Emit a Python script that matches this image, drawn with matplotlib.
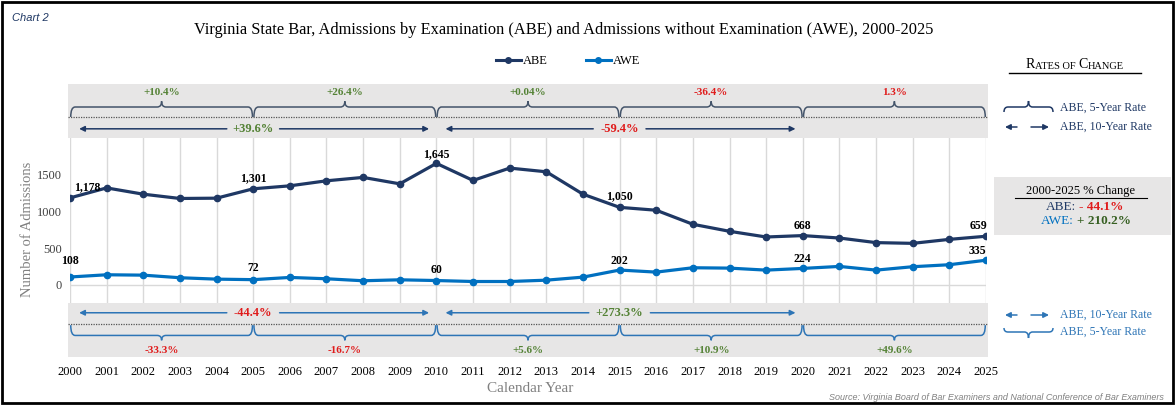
import matplotlib.pyplot as plt
from matplotlib.patches import Rectangle, PathPatch
from matplotlib.path import Path
from matplotlib.lines import Line2D

plt.rcParams['font.family'] = 'serif'
plt.rcParams['font.serif'] = ['Liberation Serif', 'DejaVu Serif']

# data
years = list(range(2000, 2026))
abe = [1178, 1313, 1228, 1170, 1174, 1301, 1341, 1409, 1455, 1368,
       1645, 1414, 1581, 1531, 1228, 1050, 1011, 821, 726, 649,
       668, 635, 573, 563, 617, 659]
awe = [108, 138, 133, 98, 79, 72, 102, 84, 57, 70,
       60, 47, 47, 65, 106, 202, 174, 233, 228, 201,
       224, 251, 201, 247, 274, 335]
label_years = [2000, 2005, 2010, 2015, 2020, 2025]

# rates of change as printed in the chart
abe_5yr = ['+10.4%', '+26.4%', '+0.04%', '-36.4%', '1.3%']
abe_10yr = ['+39.6%', '-59.4%']
awe_5yr = ['-33.3%', '-16.7%', '+5.6%', '+10.9%', '+49.6%']
awe_10yr = ['-44.4%', '+273.3%']

NAVY = '#1f3864'
BLUE = '#0070c0'
LBLUE = '#2e75b6'
SLATE = '#44546a'
GREEN = '#548235'
RED = '#e01b1b'
BAND = '#e7e6e6'

W, H = 1175, 408


def box(x0, y0, x1, y1):
    return [x0 / W, 1 - y1 / H, (x1 - x0) / W, (y1 - y0) / H]


def rate_color(s):
    return GREEN if s.startswith('+') else RED


def brace(axx, a, b, yl, ye, yt, color, d):
    m = (a + b) / 2
    verts = [(a, ye), (a, yl), (a + d, yl),
             (m - d, yl), (m, yl), (m, yt),
             (m, yl), (m + d, yl),
             (b - d, yl), (b, yl), (b, ye)]
    codes = [Path.MOVETO, Path.CURVE3, Path.CURVE3,
             Path.LINETO, Path.CURVE3, Path.CURVE3,
             Path.CURVE3, Path.CURVE3,
             Path.LINETO, Path.CURVE3, Path.CURVE3]
    axx.add_patch(PathPatch(Path(verts, codes), fill=False, ec=color, lw=1.1))


def arrow(axx, x0, x1, y, color):
    axx.annotate('', xy=(x1, y), xytext=(x0, y),
                 arrowprops=dict(arrowstyle='-|>', color=color, lw=1.1,
                                 mutation_scale=8, shrinkA=0, shrinkB=0))


def ten_year(axx, a, b, y, txt, color):
    m = (a + b) / 2
    gap = 0.12 * len(txt)
    arrow(axx, m - gap, a + 0.25, y, color)
    arrow(axx, m + gap, b - 0.2, y, color)
    axx.text(m, y, txt, ha='center', va='center', fontsize=9,
             fontweight='bold', color=rate_color(txt))


fig = plt.figure(figsize=(W / 100, H / 100), dpi=100)

# main chart
ax = fig.add_axes(box(70, 138, 986, 302.5))
ax.set_xlim(2000, 2025)
ax.set_ylim(-237, 1988)
ax.set_xticks(years)
ax.set_yticks([0, 500, 1000, 1500])
ax.grid(axis='x', color='#d9d9d9', lw=1)
ax.axhline(0, color='#d9d9d9', lw=1)
for s in ax.spines.values():
    s.set_visible(False)
ax.tick_params(axis='x', length=0, pad=46, labelsize=9)
ax.tick_params(axis='y', length=0, pad=6, labelsize=9, labelcolor='#404040')

ax.plot(years, abe, color=NAVY, lw=2.3, marker='o', ms=4.5, zorder=3)
ax.plot(years, awe, color=BLUE, lw=2.3, marker='o', ms=4.5, zorder=3)

abe_off = {2000: (17, 5), 2005: (0, 5), 2010: (0, 3), 2015: (0, 5), 2020: (0, 4), 2025: (-8, 4)}
awe_off = {2000: (0, 10), 2005: (0, 6), 2010: (0, 5), 2015: (0, 3), 2020: (0, 3), 2025: (-9, 3)}
for yr in label_years:
    i = years.index(yr)
    ax.annotate(f'{abe[i]:,}', (yr, abe[i]), xytext=abe_off[yr], textcoords='offset pixels',
                ha='center', va='bottom', fontsize=8.5, fontweight='bold')
    ax.annotate(f'{awe[i]:,}', (yr, awe[i]), xytext=awe_off[yr], textcoords='offset pixels',
                ha='center', va='bottom', fontsize=8.5, fontweight='bold')

# rate bands
pad = 2 / 36.64
bands = []
for rect in [(68, 84, 988, 138), (68, 302.5, 988, 356.5)]:
    b = fig.add_axes(box(*rect))
    b.set_xlim(2000 - pad, 2025 + pad)
    b.set_ylim(0, 1)
    b.set_facecolor(BAND)
    b.set_xticks([])
    b.set_yticks([])
    for s in b.spines.values():
        s.set_visible(False)
    bands.append(b)
top, bot = bands

top.plot([2000 - pad, 2025 + pad], [0.39, 0.39], color='#555555', lw=0.9, ls=(0, (1, 1)))
bot.plot([2000 - pad, 2025 + pad], [0.60, 0.60], color='#555555', lw=0.9, ls=(0, (1, 1)))

for k, txt in enumerate(abe_5yr):
    a = 2000 + 5 * k
    brace(top, a + 0.02, a + 4.98, 0.574, 0.39, 0.68, SLATE, 0.12)
    top.text(a + 2.5, 0.84, txt, ha='center', va='center', fontsize=8,
             fontweight='bold', color=rate_color(txt))
for k, txt in enumerate(awe_5yr):
    a = 2000 + 5 * k
    brace(bot, a + 0.02, a + 4.98, 0.39, 0.58, 0.30, LBLUE, 0.12)
    bot.text(a + 2.5, 0.11, txt, ha='center', va='center', fontsize=8,
             fontweight='bold', color=rate_color(txt))
for k, txt in enumerate(abe_10yr):
    ten_year(top, 2000 + 10 * k, 2010 + 10 * k, 0.17, txt, NAVY)
for k, txt in enumerate(awe_10yr):
    ten_year(bot, 2000 + 10 * k, 2010 + 10 * k, 0.81, txt, LBLUE)

# overlay in pixel coordinates for the surrounding texts
ov = fig.add_axes([0, 0, 1, 1])
ov.set_xlim(0, W)
ov.set_ylim(H, 0)
ov.axis('off')
ov.patch.set_alpha(0)

ov.add_patch(Rectangle((2, 2), 1171, 401, fill=False, ec='black', lw=2))
ov.text(12, 18, 'Chart 2', family='Liberation Sans', style='italic', fontsize=8,
        color=NAVY, va='center')
ov.text(564, 30, 'Virginia State Bar, Admissions by Examination (ABE) and Admissions '
        'without Examination (AWE), 2000-2025', ha='center', va='center', fontsize=11.8)
ov.text(28, 229, 'Number of Admissions', rotation=90, ha='center', va='center',
        fontsize=10.5, color='#808080')
ov.text(530, 389, 'Calendar Year', ha='center', va='center', fontsize=11, color='#808080')
ov.text(1164, 397, 'Source: Virginia Board of Bar Examiners and National Conference of Bar Examiners',
        ha='right', va='center', family='Liberation Sans', style='italic', fontsize=6.5,
        color='#808080')

handles = [Line2D([], [], color=NAVY, lw=2.2, marker='o', ms=4),
           Line2D([], [], color=BLUE, lw=2.2, marker='o', ms=4)]
fig.legend(handles, ['ABE', 'AWE'], loc='center', bbox_to_anchor=(568 / W, 1 - 61 / H),
           ncol=2, frameon=False, prop={'size': 9}, handlelength=2, handletextpad=0.2,
           columnspacing=3.0)

# rates of change key, small caps
t = ov.text(1026, 68, 'R', fontsize=10, va='baseline')
for piece, size in [('ATES OF ', 7.5), ('C', 10), ('HANGE', 7.5)]:
    t = ov.annotate(piece, xy=(1, 0), xycoords=t, fontsize=size, va='bottom')
ov.plot([1009, 1141], [73, 73], color='black', lw=1)

brace(ov, 1004, 1053, 107, 112, 101, NAVY, 4)
ov.text(1060, 108, 'ABE, 5-Year Rate', va='center', fontsize=8.5, color=NAVY)
arrow(ov, 1017, 1005, 127, NAVY)
arrow(ov, 1031, 1049, 127, NAVY)
ov.text(1060, 127, 'ABE, 10-Year Rate', va='center', fontsize=8.5, color=NAVY)

arrow(ov, 1017, 1005, 315, LBLUE)
arrow(ov, 1031, 1049, 315, LBLUE)
ov.text(1060, 315, 'ABE, 10-Year Rate', va='center', fontsize=8.5, color=LBLUE)
brace(ov, 1004, 1053, 332, 328, 338, LBLUE, 4)
ov.text(1060, 332, 'ABE, 5-Year Rate', va='center', fontsize=8.5, color=LBLUE)

# 2000-2025 change box
ov.add_patch(Rectangle((994, 177), 177, 58, color=BAND, lw=0))
ov.text(1081, 191, '2000-2025 % Change', ha='center', va='center', fontsize=9)
ov.plot([1015, 1147], [197.5, 197.5], color='black', lw=0.8)
ov.text(1076, 207, 'ABE:', ha='right', va='center', fontsize=9.5, color=NAVY)
ov.text(1079, 207, '- 44.1%', ha='left', va='center', fontsize=9.5, color=RED, fontweight='bold')
ov.text(1074, 221, 'AWE:', ha='right', va='center', fontsize=9.5, color=BLUE)
ov.text(1077, 221, '+ 210.2%', ha='left', va='center', fontsize=9.5, color='#376023',
        fontweight='bold')

fig.savefig('out.png', dpi=100)
